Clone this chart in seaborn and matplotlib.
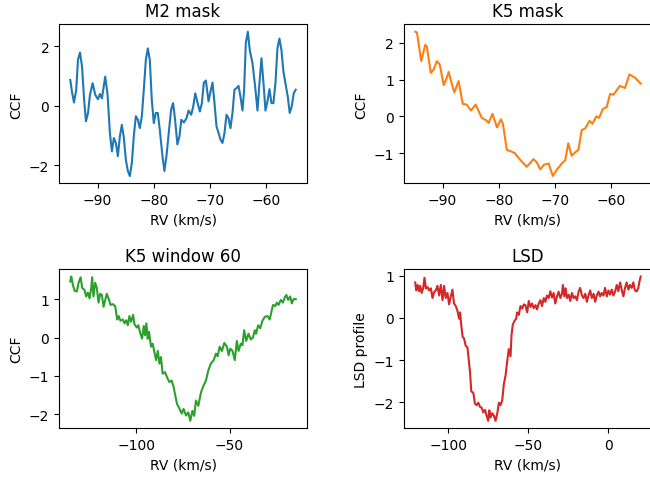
import matplotlib
matplotlib.use("Agg")
import matplotlib.pyplot as plt
import seaborn as sns

# M2 mask CCF
rv_m2 = [-94.86, -94.57, -94.2, -93.8, -93.5, -93.13, -92.77, -92.4, -92.07, -91.71,
         -91.36, -90.89, -90.41, -89.94, -89.58, -89.23, -88.64, -88.22, -87.81, -87.45,
         -87.1, -86.74, -86.39, -86.03, -85.68, -85.32, -84.97, -84.61, -84.26, -83.9,
         -83.55, -83.19, -82.83, -82.48, -82.12, -81.77, -81.41, -81.06, -80.7, -80.35,
         -79.99, -79.64, -79.28, -78.93, -78.45, -78.1, -77.74, -77.27, -76.91, -76.56,
         -76.2, -75.79, -75.4, -75.1, -74.63, -74.15, -73.8, -73.33, -72.97, -72.61,
         -72.26, -71.79, -71.43, -71.08, -70.72, -70.25, -69.89, -69.54, -69.18, -68.83,
         -68.47, -68.11, -67.76, -67.4, -67.05, -66.69, -66.34, -65.98, -65.63, -65.27,
         -64.91, -64.56, -64.2, -63.91, -63.61, -63.25, -62.9, -62.42, -61.95, -61.53,
         -61.18, -60.82, -60.46, -60.11, -59.75, -59.4, -59.04, -58.69, -58.33, -57.98,
         -57.62, -57.26, -56.91, -56.5, -56.14, -55.79, -55.43, -55.08, -54.72]
ccf_m2 = [0.87, 0.48, 0.11, 0.54, 1.54, 1.79, 1.32, 0.20, -0.52, -0.25,
          0.37, 0.76, 0.37, 0.22, 0.40, 0.25, 0.98, 0.37, -0.91, -1.53,
          -1.08, -1.25, -1.69, -1.02, -0.64, -1.08, -1.81, -2.19, -2.36, -1.92,
          -1.02, -0.35, -0.47, -0.75, -0.35, 0.54, 1.54, 1.93, 1.54, 0.20,
          -0.58, -0.24, -0.24, -0.80, -1.69, -2.19, -1.69, -0.80, -0.13, 0.09,
          -0.47, -1.30, -1.0, -0.47, -0.56, -0.41, -0.16, -0.30, -0.02, 0.42,
          0.15, -0.19, 0.09, 0.78, 0.85, 0.15, 0.48, 0.78, 0.09, -0.69,
          -0.91, -1.14, -1.25, -0.91, -0.30, -0.41, -0.75, -0.24, 0.54, 0.59,
          0.67, 0.31, -0.16, 0.54, 2.10, 2.49, 1.87, 1.43, 0.65, -0.16,
          0.76, 1.60, 0.76, -0.16, 0.15, 0.56, 0.09, 0.09, 0.76, 1.93,
          2.26, 1.87, 1.15, 0.70, 0.31, -0.24, -0.02, 0.42, 0.54]

# K5 mask CCF
rv_k5 = [-94.87, -94.57, -93.8, -93.1, -92.8, -92.1, -91.6, -91.0, -90.5, -89.8,
         -89.35, -88.9, -88.5, -87.9, -87.15, -86.4, -85.7, -84.95, -84.1, -83.5,
         -83.0, -82.2, -81.8, -81.1, -80.3, -79.6, -79.25, -78.55, -77.8, -77.1,
         -76.3, -75.0, -74.3, -73.8, -73.2, -72.6, -71.9, -71.1, -70.35, -69.6,
         -68.75, -68.15, -67.6, -67.0, -66.4, -65.8, -65.2, -64.6, -63.8, -63.3,
         -62.6, -62.1, -61.45, -60.75, -60.15, -59.55, -58.4, -57.5, -56.7, -55.7,
         -54.7]
ccf_k5 = [2.30, 2.28, 1.50, 1.94, 1.90, 1.18, 1.27, 1.50, 1.41, 0.85,
          1.01, 1.21, 0.96, 0.65, 0.96, 0.34, 0.32, 0.16, 0.32, 0.12,
          -0.04, -0.11, -0.18, 0.07, -0.30, -0.08, -0.20, -0.91, -0.95, -1.0,
          -1.16, -1.37, -1.25, -1.16, -1.25, -1.44, -1.31, -1.28, -1.62, -1.44,
          -1.28, -1.19, -0.73, -1.07, -0.98, -0.91, -0.37, -0.33, -0.12, -0.20,
          0.0, -0.04, 0.20, 0.25, 0.61, 0.59, 0.83, 0.77, 1.14, 1.05,
          0.89]

# K5 mask, window 60
rv_w60 = [-135.2, -134.7, -133.8, -132.9, -131.7, -130.8, -129.7, -128.8, -127.6, -126.7,
          -125.8, -124.9, -124.0, -123.5, -122.8, -121.9, -121.0, -120.1, -119.2, -118.3,
          -117.4, -116.5, -115.7, -114.6, -113.7, -112.5, -111.2, -110.1, -109.3, -108.4,
          -107.1, -106.2, -105.3, -104.4, -103.6, -102.7, -101.6, -100.9, -99.6, -98.8,
          -97.7, -96.8, -95.9, -95.2, -94.5, -93.8, -93.1, -92.0, -91.1, -90.2,
          -89.3, -88.4, -87.5, -86.7, -85.8, -84.5, -83.5, -82.2, -81.0, -79.9,
          -79.2, -78.1, -76.9, -75.6, -74.6, -73.3, -72.1, -71.0, -69.9, -68.9,
          -68.0, -66.7, -65.3, -63.9, -62.6, -61.4, -60.0, -58.5, -57.3, -56.4,
          -55.3, -54.1, -52.8, -51.4, -50.5, -49.6, -48.4, -47.2, -46.1, -45.2,
          -44.0, -43.1, -42.2, -41.1, -39.9, -38.6, -37.5, -36.5, -35.8, -34.7,
          -33.6, -32.4, -31.1, -29.7, -28.5, -27.4, -26.7, -25.6, -24.7, -23.8,
          -22.6, -21.5, -20.4, -19.6, -18.7, -17.6, -16.7, -15.8, -14.6]
ccf_w60 = [1.46, 1.59, 1.37, 1.22, 1.20, 1.42, 1.57, 1.29, 1.24, 1.07,
           1.17, 1.02, 1.29, 1.57, 1.07, 1.43, 1.29, 0.91, 1.14, 1.11,
           0.80, 0.98, 1.14, 1.0, 0.85, 0.87, 0.82, 0.47, 0.56, 0.44,
           0.47, 0.37, 0.45, 0.32, 0.56, 0.41, 0.59, 0.35, 0.26, 0.32,
           0.10, -0.03, 0.30, 0.06, 0.37, -0.03, 0.15, -0.24, -0.16, -0.38,
           -0.59, -0.35, -0.68, -0.51, -0.94, -0.90, -1.03, -1.16, -1.12, -1.29,
           -1.47, -1.73, -1.84, -1.98, -1.86, -2.03, -1.95, -2.17, -1.91, -2.04,
           -1.64, -1.78, -1.43, -1.25, -1.12, -0.86, -0.68, -0.59, -0.42, -0.49,
           -0.24, -0.35, -0.14, -0.24, -0.46, -0.29, -0.35, -0.59, -0.09, -0.35,
           -0.16, -0.20, 0.19, -0.09, 0.10, -0.05, 0.0, 0.19, 0.10, 0.32,
           0.24, 0.44, 0.54, 0.56, 0.47, 0.72, 0.85, 0.82, 0.91, 0.85,
           0.98, 0.91, 1.05, 1.11, 0.98, 1.07, 0.89, 1.0, 1.0]

# LSD profile
rv_lsd = [-120.8, -120.2, -119.3, -118.5, -117.7, -116.8, -115.8, -115.0, -114.1, -113.1,
          -112.1, -111.0, -110.0, -108.9, -107.9, -106.9, -105.8, -104.8, -103.7, -102.7,
          -101.7, -100.6, -99.6, -98.5, -97.5, -96.5, -95.4, -94.4, -93.3, -92.7,
          -91.9, -91.1, -90.2, -89.2, -88.1, -87.3, -86.5, -85.7, -84.4, -83.4,
          -82.3, -81.3, -80.2, -79.2, -78.2, -77.1, -76.1, -75.1, -74.4, -73.6,
          -72.6, -71.5, -70.5, -69.4, -68.4, -67.4, -66.3, -65.3, -64.2, -63.2,
          -62.2, -61.1, -60.5, -59.7, -58.6, -57.6, -57.0, -55.9, -54.9, -53.8,
          -52.8, -51.8, -50.7, -49.7, -48.6, -47.6, -46.6, -45.5, -44.5, -43.5,
          -42.4, -41.4, -40.3, -39.3, -38.3, -37.2, -36.2, -35.1, -34.1, -33.1,
          -32.0, -31.0, -29.9, -28.9, -28.3, -27.4, -26.6, -25.8, -24.7, -23.7,
          -22.7, -21.6, -20.6, -19.5, -18.5, -17.5, -16.4, -15.4, -14.3, -13.3,
          -12.3, -11.2, -10.2, -9.1, -8.1, -7.1, -6.0, -5.0, -4.0, -2.9,
          -1.9, -0.8, 0.2, 1.2, 2.3, 3.3, 4.4, 5.4, 6.4, 7.5,
          8.5, 9.6, 10.6, 11.6, 12.7, 13.7, 14.8, 15.8, 16.8, 17.9,
          18.9, 19.5, 20.4]
lsd = [0.84, 0.65, 0.78, 0.63, 0.76, 0.59, 0.71, 0.95, 0.70, 0.73,
       0.65, 0.70, 0.47, 0.62, 0.65, 0.76, 0.53, 0.78, 0.42, 0.76,
       0.47, 0.59, 0.32, 0.51, 0.67, 0.34, 0.28, 0.17, -0.02, 0.13,
       -0.20, -0.45, -0.49, -0.66, -0.70, -0.99, -1.28, -1.74, -1.78, -2.03,
       -2.07, -2.01, -2.11, -2.13, -2.24, -2.18, -2.32, -2.44, -2.19, -2.36,
       -2.26, -2.32, -2.44, -2.26, -2.01, -2.07, -1.95, -1.57, -1.36, -1.03,
       -0.74, -0.91, -0.41, -0.16, -0.07, -0.02, 0.13, 0.07, 0.28, 0.22,
       0.32, 0.30, 0.13, 0.40, 0.26, 0.34, 0.23, 0.30, 0.20, 0.34,
       0.42, 0.28, 0.47, 0.38, 0.53, 0.47, 0.63, 0.48, 0.59, 0.34,
       0.51, 0.62, 0.47, 0.57, 0.78, 0.51, 0.70, 0.47, 0.55, 0.40,
       0.59, 0.47, 0.51, 0.42, 0.62, 0.71, 0.53, 0.47, 0.57, 0.38,
       0.53, 0.65, 0.47, 0.57, 0.38, 0.53, 0.62, 0.51, 0.59, 0.53,
       0.71, 0.51, 0.65, 0.55, 0.67, 0.53, 0.63, 0.78, 0.63, 0.84,
       0.67, 0.51, 0.71, 0.84, 0.67, 0.78, 0.71, 0.84, 0.65, 0.63,
       0.70, 0.84, 0.98]

panels = [
    ("M2 mask", rv_m2, ccf_m2, "CCF"),
    ("K5 mask", rv_k5, ccf_k5, "CCF"),
    ("K5 window 60", rv_w60, ccf_w60, "CCF"),
    ("LSD", rv_lsd, lsd, "LSD profile"),
]
colors = sns.color_palette("tab10", 4)

fig, axes = plt.subplots(2, 2, figsize=(6.5, 4.81), dpi=100)
# right column runs a little past the figure edge, like the original
fig.subplots_adjust(left=0.0908, right=1.003, top=0.947, bottom=0.108,
                    wspace=0.391, hspace=0.542)

for ax, (title, x, y, ylab), c in zip(axes.flat, panels, colors):
    sns.lineplot(x=x, y=y, ax=ax, color=c, linewidth=1.5)
    ax.set_title(title)
    ax.set_xlabel("RV (km/s)")
    ax.set_ylabel(ylab)

fig.savefig("out.png", dpi=100)
